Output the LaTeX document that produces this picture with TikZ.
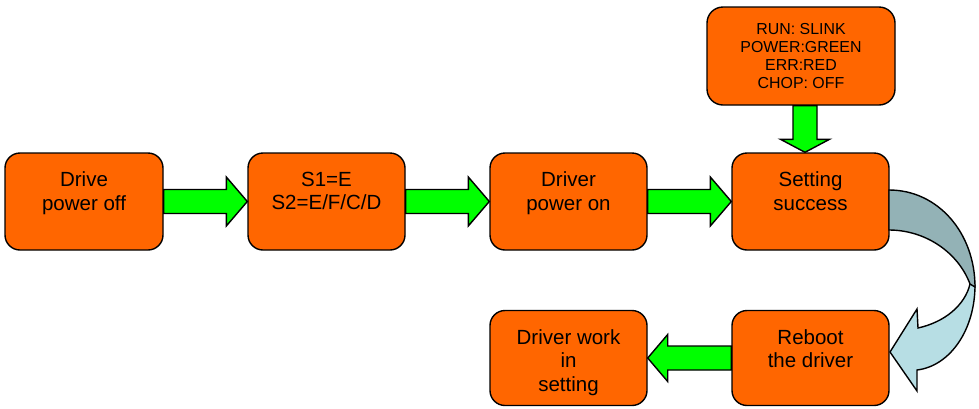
\documentclass[tikz,border=0pt]{standalone}
\usepackage{fontspec}
\setmainfont{Liberation Sans}
\usetikzlibrary{calc}
\definecolor{boxorange}{RGB}{255,102,0}
\definecolor{arrowgreen}{RGB}{0,255,0}
\definecolor{curvedark}{RGB}{147,178,182}
\definecolor{curvelight}{RGB}{183,222,228}
\newcommand\boxtxt[3]{\parbox[c][#2pt][t]{#1pt}{\centering\vspace*{19pt}#3\par}}
\begin{document}
\begin{tikzpicture}[x=1pt,y=-1pt,
  stepbox/.style={draw=black,line width=1.4pt,fill=boxorange,rounded corners=15pt,inner sep=0pt,
    font=\fontsize{20.5}{23.5}\selectfont},
  infobox/.style={draw=black,line width=1.4pt,fill=boxorange,rounded corners=16pt,inner sep=0pt,
    minimum width=188pt,minimum height=98pt,align=center,font=\fontsize{15.9}{18.3}\selectfont},
  garrow/.style={draw=black,line width=1.4pt,fill=arrowgreen,line join=miter},
  curveband/.style={draw=black,line width=1.4pt,line join=miter}]
\useasboundingbox (0,0) rectangle (979,408);
% boxes
\node[stepbox] (off) at (84,201.5) {\boxtxt{158}{97}{Drive\\power off}};
\node[stepbox] (sw) at (326.5,201.5) {\boxtxt{157}{97}{S1=E\\S2=E/F/C/D}};
\node[stepbox] (on) at (568.5,201.5) {\boxtxt{157}{97}{Driver\\power on}};
\node[stepbox] (set) at (810.5,201.5) {\boxtxt{157}{97}{Setting\\success}};
\node[infobox] (info) at (801,56) {RUN: SLINK\\POWER:GREEN\\ERR:RED\\CHOP: OFF};
\node[stepbox] (reboot) at (810.5,358) {\boxtxt{157}{95}{Reboot\\the driver}};
\node[stepbox] (work) at (568.5,358) {\boxtxt{157}{95}{Driver work\\in\\setting}};
% horizontal arrows
\foreach \a/\b in {off/sw,sw/on,on/set}{
  \draw[garrow] ($(\a.east)+(0,-12)$) -- ($(\b.west)+(-21,-12)$) -- ($(\b.west)+(-21,-24.5)$)
    -- (\b.west) -- ($(\b.west)+(-21,24.5)$) -- ($(\b.west)+(-21,12)$) -- ($(\a.east)+(0,12)$) -- cycle;
}
% down arrow
\coordinate (dtop) at ($(info.south)+(4,0)$);
\coordinate (dtip) at (dtop |- set.north);
\draw[garrow] ($(dtop)+(-12,0)$) -- ($(dtip)+(-12,-13)$) -- ($(dtip)+(-24.5,-13)$) -- (dtip)
  -- ($(dtip)+(24.5,-13)$) -- ($(dtip)+(12,-13)$) -- ($(dtop)+(12,0)$) -- cycle;
% left arrow
\draw[garrow] ($(reboot.west)+(0,-12)$) -- ($(work.east)+(20,-12)$) -- ($(work.east)+(20,-23.5)$)
  -- (work.east) -- ($(work.east)+(20,23.5)$) -- ($(work.east)+(20,12)$) -- ($(reboot.west)+(0,12)$) -- cycle;
% curved arrow
\draw[curveband,fill=curvelight] (975,285) .. controls (975,330) and (950,366) .. (917,370)
  -- (917,391) -- (890,352) -- (917,309) -- (918,328)
  .. controls (945,322) and (965,305) .. (970,284) -- cycle;
\draw[curveband,fill=curvedark] (889,190) .. controls (938,190) and (975,233) .. (975,287)
  -- (970,284) .. controls (958,252) and (925,230) .. (889,230) -- cycle;
\end{tikzpicture}
\end{document}
